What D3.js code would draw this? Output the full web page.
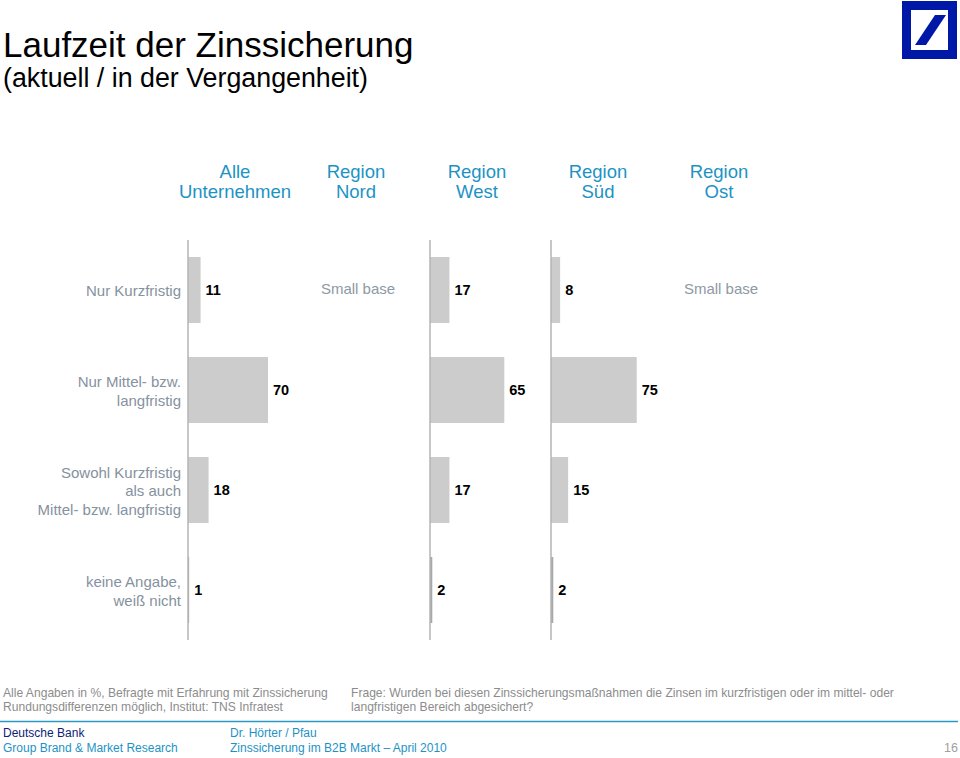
<!DOCTYPE html>
<html>
<head>
<meta charset="utf-8">
<script src="https://cdn.jsdelivr.net/npm/d3@7"></script>
<style>
  html, body { margin: 0; padding: 0; background: #fff; }
  svg { display: block; font-family: "Liberation Sans", Arial, sans-serif; }
</style>
</head>
<body>
<svg id="chart" width="960" height="758"></svg>
<script>
// ---- data ----
const groups = ["Alle Unternehmen", "Region Nord", "Region West", "Region Süd", "Region Ost"];
const groupLines = [["Alle", "Unternehmen"], ["Region", "Nord"], ["Region", "West"], ["Region", "Süd"], ["Region", "Ost"]];
const categories = ["Nur Kurzfristig", "Nur Mittel- bzw. langfristig", "Sowohl Kurzfristig als auch Mittel- bzw. langfristig", "keine Angabe, weiß nicht"];
const categoryLines = [["Nur Kurzfristig"], ["Nur Mittel- bzw.", "langfristig"], ["Sowohl Kurzfristig", "als auch", "Mittel- bzw. langfristig"], ["keine Angabe,", "weiß nicht"]];
const valuesAlle = [11, 70, 18, 1];
const valuesNord = null;   // Small base
const valuesWest = [17, 65, 17, 2];
const valuesSued = [8, 75, 15, 2];
const valuesOst = null;    // Small base
const seriesValues = [valuesAlle, valuesNord, valuesWest, valuesSued, valuesOst];
const smallBaseLabel = "Small base";

// ---- layout ----
const svg = d3.select("#chart");
const teal = "#1d93c4";
const catGrey = "#8592a0";

const xCol = d3.scalePoint().domain(groups).range([235, 719]);
const yRow = d3.scaleBand().domain(categories).range([240, 640]).paddingInner(0.34).paddingOuter(0.17);
const xVal = d3.scaleLinear().domain([0, 100]).range([0, 114.3]);
const axisOffset = -47;

// title
svg.append("text").attr("x", 3).attr("y", 57).attr("font-size", 35).attr("fill", "#000").text("Laufzeit der Zinssicherung");
svg.append("text").attr("x", 3).attr("y", 87).attr("font-size", 26.8).attr("fill", "#000").text("(aktuell / in der Vergangenheit)");

// logo
const logo = svg.append("g");
logo.append("rect").attr("x", 902).attr("y", 1).attr("width", 55).attr("height", 58).attr("fill", "#0018a8");
logo.append("rect").attr("x", 911).attr("y", 10).attr("width", 37).attr("height", 40).attr("fill", "#fff");
logo.append("polygon").attr("points", "935,15 946,15 926,45 915,45").attr("fill", "#0018a8");

// column headers
groups.forEach((g, i) => {
  const t = svg.append("text").attr("text-anchor", "middle").attr("font-size", 18.5).attr("fill", teal);
  groupLines[i].forEach((l, j) => {
    t.append("tspan").attr("x", xCol(g)).attr("y", 178 + j * 20).text(l);
  });
});

// category labels
categories.forEach((c, i) => {
  const lines = categoryLines[i];
  const cy = yRow(c) + yRow.bandwidth() / 2 + 1;
  const lh = 18.5;
  const t = svg.append("text").attr("text-anchor", "end").attr("font-size", 15).attr("fill", catGrey);
  lines.forEach((l, j) => {
    t.append("tspan").attr("x", 181)
      .attr("y", cy + (j - (lines.length - 1) / 2) * lh)
      .attr("dy", "0.35em").text(l);
  });
});

// panels
groups.forEach((g, gi) => {
  const vals = seriesValues[gi];
  const cx = xCol(g);
  if (!vals) {
    svg.append("text").attr("x", cx + 2).attr("y", yRow(categories[0]) + yRow.bandwidth() / 2 - 1)
      .attr("dy", "0.35em").attr("text-anchor", "middle").attr("font-size", 15).attr("fill", "#8d99a5")
      .text(smallBaseLabel);
    return;
  }
  const x0 = cx + axisOffset;
  const panel = svg.append("g");
  panel.selectAll("rect.bar").data(categories).join("rect")
    .attr("class", "bar")
    .attr("x", x0)
    .attr("y", d => yRow(d))
    .attr("width", (d, i) => xVal(vals[i]))
    .attr("height", yRow.bandwidth())
    .attr("fill", (d, i) => vals[i] < 5 ? "#a8a8a8" : "#cccccc");
  panel.append("line").attr("x1", x0).attr("x2", x0).attr("y1", 240).attr("y2", 640)
    .attr("stroke", "#b5b5b5").attr("stroke-width", 1.5);
  panel.selectAll("text.val").data(categories).join("text")
    .attr("class", "val")
    .attr("x", (d, i) => x0 + xVal(vals[i]) + 5)
    .attr("y", d => yRow(d) + yRow.bandwidth() / 2)
    .attr("dy", "0.35em")
    .attr("font-size", 14.5).attr("font-weight", "bold").attr("fill", "#000")
    .text((d, i) => vals[i]);
});

// footnotes
const noteGrey = "#8c8c8c";
svg.append("text").attr("x", 3).attr("y", 697).attr("font-size", 12.1).attr("fill", noteGrey).text("Alle Angaben in %, Befragte mit Erfahrung mit Zinssicherung");
svg.append("text").attr("x", 3).attr("y", 711).attr("font-size", 12.1).attr("fill", noteGrey).text("Rundungsdifferenzen möglich, Institut: TNS Infratest");
svg.append("text").attr("x", 351).attr("y", 697).attr("font-size", 12.1).attr("fill", noteGrey).text("Frage: Wurden bei diesen Zinssicherungsmaßnahmen die Zinsen im kurzfristigen oder im mittel- oder");
svg.append("text").attr("x", 351).attr("y", 711).attr("font-size", 12.1).attr("fill", noteGrey).text("langfristigen Bereich abgesichert?");

svg.append("line").attr("x1", 0).attr("x2", 958).attr("y1", 721.5).attr("y2", 721.5).attr("stroke", "#2a98c4").attr("stroke-width", 1.5);

svg.append("text").attr("x", 3).attr("y", 737).attr("font-size", 12).attr("fill", "#0c2378").text("Deutsche Bank");
svg.append("text").attr("x", 3).attr("y", 752).attr("font-size", 12).attr("fill", teal).text("Group Brand & Market Research");
svg.append("text").attr("x", 230).attr("y", 737).attr("font-size", 12).attr("fill", teal).text("Dr. Hörter / Pfau");
svg.append("text").attr("x", 230).attr("y", 752).attr("font-size", 12).attr("fill", teal).text("Zinssicherung im B2B Markt – April 2010");
svg.append("text").attr("x", 958).attr("y", 752).attr("text-anchor", "end").attr("font-size", 12.5).attr("fill", "#a0a0a0").text("16");
</script>
</body>
</html>
